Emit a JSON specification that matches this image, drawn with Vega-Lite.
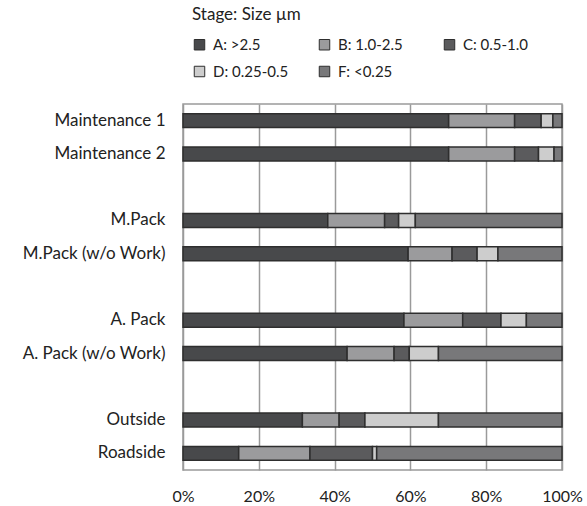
{
  "$schema": "https://vega.github.io/schema/vega-lite/v6.json",
  "width": 379,
  "height": 366,
  "padding": {"left": 21, "top": 7, "right": 20, "bottom": 5},
  "config": {
    "font": "Lato",
    "view": {"stroke": "#9a9a9a", "strokeWidth": 1.5},
    "axis": {"labelFont": "Lato", "labelColor": "#222", "titleFont": "Lato"},
    "legend": {"labelFont": "Lato", "titleFont": "Lato"}
  },
  "data": {
    "values": [
      {"site": "Maintenance 1", "stage": "A: >2.5", "value": 70.1},
      {"site": "Maintenance 1", "stage": "B: 1.0-2.5", "value": 17.4},
      {"site": "Maintenance 1", "stage": "C: 0.5-1.0", "value": 7.0},
      {"site": "Maintenance 1", "stage": "D: 0.25-0.5", "value": 3.1},
      {"site": "Maintenance 1", "stage": "F: <0.25", "value": 2.4},
      {"site": "Maintenance 2", "stage": "A: >2.5", "value": 70.1},
      {"site": "Maintenance 2", "stage": "B: 1.0-2.5", "value": 17.4},
      {"site": "Maintenance 2", "stage": "C: 0.5-1.0", "value": 6.3},
      {"site": "Maintenance 2", "stage": "D: 0.25-0.5", "value": 4.1},
      {"site": "Maintenance 2", "stage": "F: <0.25", "value": 2.1},
      {"site": "M.Pack", "stage": "A: >2.5", "value": 38.2},
      {"site": "M.Pack", "stage": "B: 1.0-2.5", "value": 15.0},
      {"site": "M.Pack", "stage": "C: 0.5-1.0", "value": 3.7},
      {"site": "M.Pack", "stage": "D: 0.25-0.5", "value": 4.4},
      {"site": "M.Pack", "stage": "F: <0.25", "value": 38.7},
      {"site": "M.Pack (w/o Work)", "stage": "A: >2.5", "value": 59.4},
      {"site": "M.Pack (w/o Work)", "stage": "B: 1.0-2.5", "value": 11.6},
      {"site": "M.Pack (w/o Work)", "stage": "C: 0.5-1.0", "value": 6.6},
      {"site": "M.Pack (w/o Work)", "stage": "D: 0.25-0.5", "value": 5.5},
      {"site": "M.Pack (w/o Work)", "stage": "F: <0.25", "value": 16.9},
      {"site": "A. Pack", "stage": "A: >2.5", "value": 58.3},
      {"site": "A. Pack", "stage": "B: 1.0-2.5", "value": 15.5},
      {"site": "A. Pack", "stage": "C: 0.5-1.0", "value": 10.1},
      {"site": "A. Pack", "stage": "D: 0.25-0.5", "value": 6.7},
      {"site": "A. Pack", "stage": "F: <0.25", "value": 9.4},
      {"site": "A. Pack (w/o Work)", "stage": "A: >2.5", "value": 43.3},
      {"site": "A. Pack (w/o Work)", "stage": "B: 1.0-2.5", "value": 12.4},
      {"site": "A. Pack (w/o Work)", "stage": "C: 0.5-1.0", "value": 4.0},
      {"site": "A. Pack (w/o Work)", "stage": "D: 0.25-0.5", "value": 7.7},
      {"site": "A. Pack (w/o Work)", "stage": "F: <0.25", "value": 32.6},
      {"site": "Outside", "stage": "A: >2.5", "value": 31.5},
      {"site": "Outside", "stage": "B: 1.0-2.5", "value": 9.7},
      {"site": "Outside", "stage": "C: 0.5-1.0", "value": 6.8},
      {"site": "Outside", "stage": "D: 0.25-0.5", "value": 19.4},
      {"site": "Outside", "stage": "F: <0.25", "value": 32.6},
      {"site": "Roadside", "stage": "A: >2.5", "value": 14.7},
      {"site": "Roadside", "stage": "B: 1.0-2.5", "value": 18.8},
      {"site": "Roadside", "stage": "C: 0.5-1.0", "value": 16.5},
      {"site": "Roadside", "stage": "D: 0.25-0.5", "value": 1.1},
      {"site": "Roadside", "stage": "F: <0.25", "value": 48.9}
    ]
  },
  "mark": {"type": "bar", "stroke": "#2e2e2e", "strokeWidth": 1.5},
  "encoding": {
    "y": {
      "field": "site",
      "type": "nominal",
      "scale": {
        "domain": ["Maintenance 1", "Maintenance 2", "_g1", "M.Pack", "M.Pack (w/o Work)", "_g2", "A. Pack", "A. Pack (w/o Work)", "_g3", "Outside", "Roadside"],
        "paddingInner": 0.58,
        "paddingOuter": 0.29
      },
      "axis": {
        "title": null,
        "ticks": false,
        "domain": false,
        "labelFontSize": 17,
        "labelPadding": 18,
        "labelLimit": 300,
        "labelExpr": "indexof(datum.label, '_g') == 0 ? '' : datum.label"
      }
    },
    "x": {
      "field": "value",
      "type": "quantitative",
      "stack": "normalize",
      "scale": {"domain": [0, 1], "nice": false},
      "axis": {
        "title": null,
        "format": ".0%",
        "values": [0, 0.2, 0.4, 0.6, 0.8, 1],
        "ticks": false,
        "domain": false,
        "grid": true,
        "gridColor": "#9a9a9a",
        "gridWidth": 1.5,
        "labelFontSize": 16,
        "labelPadding": 18,
        "labelFlush": false
      }
    },
    "color": {
      "field": "stage",
      "type": "nominal",
      "scale": {
        "domain": ["A: >2.5", "B: 1.0-2.5", "C: 0.5-1.0", "D: 0.25-0.5", "F: <0.25"],
        "range": ["#48494b", "#9b9b9d", "#5b5b5d", "#cdcdcd", "#78787a"]
      },
      "legend": {
        "orient": "none",
        "legendX": 9,
        "legendY": -97,
        "direction": "horizontal",
        "columns": 3,
        "gridAlign": "all",
        "columnPadding": 28,
        "rowPadding": 11,
        "title": "Stage: Size µm",
        "titleFontSize": 17,
        "titleFontWeight": "normal",
        "titleColor": "#222",
        "titlePadding": 13,
        "labelFontSize": 15,
        "labelColor": "#222",
        "symbolType": "square",
        "symbolSize": 110,
        "symbolStrokeColor": "#2e2e2e",
        "symbolStrokeWidth": 1,
        "symbolOffset": 0,
        "labelOffset": 6
      }
    },
    "order": {"field": "stage", "sort": "ascending"}
  }
}
